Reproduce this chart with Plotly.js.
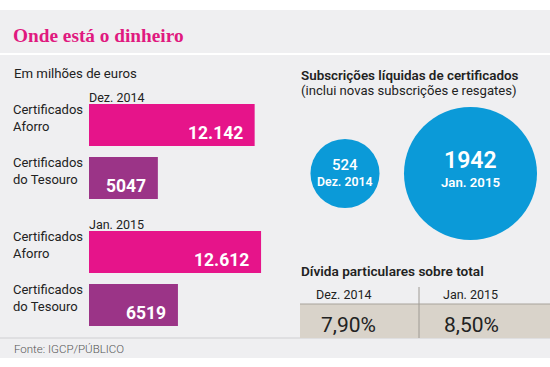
<!DOCTYPE html>
<html>
<head>
<meta charset="utf-8">
<script src="https://cdn.plot.ly/plotly-3.0.1.min.js"></script>
<style>
html,body{margin:0;padding:0;background:#fff;}
#chart{width:550px;height:367px;}
</style>
</head>
<body>
<div id="chart"></div>
<script>
// ---- data ----
const barCategories = ['Certificados Aforro', 'Certificados do Tesouro'];
const barLabels = ['Certificados<br>Aforro', 'Certificados<br>do Tesouro'];
const periods = ['Dez. 2014', 'Jan. 2015'];
const valuesDec2014 = [12142, 5047];
const valuesJan2015 = [12612, 6519];
const subsDates = ['Dez. 2014', 'Jan. 2015'];
const subsValues = [524, 1942];
const debtDates = ['Dez. 2014', 'Jan. 2015'];
const debtValues = [7.90, 8.50];

// ---- helpers ----
const W = 550, H = 367;
const px = x => x / W;
const py = y => 1 - y / H;
function fmtPt(v) {
  if (v < 10000) return String(v);
  return String(v).replace(/\B(?=(\d{3})+(?!\d))/g, '.');
}
function fmtPct(v) { return v.toFixed(2).replace('.', ',') + '%'; }

const FONT = 'Roboto, "Open Sans", sans-serif';
const TXT = '#222222';
const barColors = ['#e6148a', '#9b3487'];
const BLUE = '#0b9ad8';

const groups = [valuesDec2014, valuesJan2015];
const yAxes = ['y', 'y3'];

const traces = [];
groups.forEach((vals, g) => {
  traces.push({
    type: 'bar', orientation: 'h',
    x: vals, y: barCategories,
    xaxis: 'x', yaxis: yAxes[g],
    marker: { color: barColors, line: { width: 0 } },
    hoverinfo: 'x+y', showlegend: false
  });
});

// sizeref so that the 1942 bubble has radius ~66.5px (area-proportional)
const maxR = 66.5;
const sizeref = Math.max(...subsValues) / (2 * maxR * maxR);
traces.push({
  type: 'scatter', mode: 'markers',
  x: subsDates, y: subsDates.map(() => 0),
  xaxis: 'x2', yaxis: 'y2',
  marker: { size: subsValues, sizemode: 'area', sizeref: sizeref, color: BLUE, line: { width: 0 }, opacity: 1 },
  cliponaxis: false, hoverinfo: 'x+text', text: subsValues.map(String), showlegend: false
});

const annotations = [];
const shapes = [];

// background panel
shapes.push({ type: 'rect', xref: 'paper', yref: 'paper', x0: px(0), x1: px(550), y0: py(358), y1: py(10), fillcolor: '#efeff1', line: { width: 0 }, layer: 'below' });
// white separator under title
shapes.push({ type: 'line', xref: 'paper', yref: 'paper', x0: px(0), x1: px(550), y0: py(54), y1: py(54), line: { color: '#ffffff', width: 2 }, layer: 'below' });
// footer line
shapes.push({ type: 'line', xref: 'paper', yref: 'paper', x0: px(0), x1: px(550), y0: py(338), y1: py(338), line: { color: '#cfcfd2', width: 1 }, layer: 'below' });
// table beige row
shapes.push({ type: 'rect', xref: 'paper', yref: 'paper', x0: px(300), x1: px(550), y0: py(338), y1: py(304), fillcolor: '#d9d3ca', line: { width: 0 }, layer: 'below' });
shapes.push({ type: 'line', xref: 'paper', yref: 'paper', x0: px(300), x1: px(550), y0: py(304), y1: py(304), line: { color: '#a8a39b', width: 1 }, layer: 'below' });
shapes.push({ type: 'line', xref: 'paper', yref: 'paper', x0: px(419), x1: px(419), y0: py(338), y1: py(287), line: { color: '#9e9a94', width: 1 }, layer: 'below' });

function txt(x, y, text, size, opts) {
  return Object.assign({
    xref: 'paper', yref: 'paper', x: px(x), y: py(y), text: text,
    showarrow: false, xanchor: 'left', yanchor: 'middle',
    font: { family: FONT, size: size, color: TXT }
  }, opts || {});
}

// title
annotations.push(txt(11, 35.5, 'Onde está o dinheiro', 19.3, { font: { family: '"Liberation Serif", "DejaVu Serif", serif', size: 19.3, color: '#e0197f', weight: 700 } }));
annotations.push(txt(12, 74, 'Em milhões de euros', 13.2));
// right headings
annotations.push(txt(299, 75.5, 'Subscrições líquidas de certificados', 13.4, { font: { family: FONT, size: 13.4, color: TXT, weight: 600 } }));
annotations.push(txt(299, 90.5, '(inclui novas subscrições e resgates)', 13.1));
annotations.push(txt(299, 271, 'Dívida particulares sobre total', 13.6, { font: { family: FONT, size: 13.6, color: TXT, weight: 600 } }));
// footer
annotations.push(txt(12, 348.5, 'Fonte: IGCP/PÚBLICO', 11.5, { font: { family: FONT, size: 11.5, color: '#555555', weight: 300 } }));

// bar group annotations
groups.forEach((vals, g) => {
  const ya = yAxes[g];
  annotations.push({
    xref: 'paper', yref: ya, x: px(87), y: barCategories[0], yshift: 28,
    text: periods[g], showarrow: false, xanchor: 'left', yanchor: 'middle',
    font: { family: FONT, size: 12.5, color: TXT }
  });
  barCategories.forEach((c, i) => {
    annotations.push({
      xref: 'paper', yref: ya, x: px(11), y: c, yshift: 7,
      text: barLabels[i], showarrow: false, xanchor: 'left', yanchor: 'middle', align: 'left',
      font: { family: FONT, size: 13, color: TXT }
    });
    annotations.push({
      xref: 'x', yref: ya, x: vals[i], y: c, xshift: -10, yshift: -8,
      text: fmtPt(vals[i]), showarrow: false, xanchor: 'right', yanchor: 'middle',
      font: { family: FONT, size: 17.5, color: '#ffffff', weight: 700 }
    });
  });
});

// bubble texts
const numSizes = [15, 23];
const numShift = [8.5, 13.5];
const dateSizes = [12.3, 13.2];
subsDates.forEach((d, i) => {
  annotations.push({
    xref: 'x2', yref: 'y2', x: d, y: 0, yshift: numShift[i],
    text: String(subsValues[i]), showarrow: false, xanchor: 'center', yanchor: 'middle',
    font: { family: FONT, size: numSizes[i], color: '#ffffff', weight: i === 1 ? 600 : 500 }
  });
  annotations.push({
    xref: 'x2', yref: 'y2', x: d, y: 0, yshift: -8.5,
    text: d, showarrow: false, xanchor: 'center', yanchor: 'middle',
    font: { family: FONT, size: dateSizes[i], color: '#ffffff', weight: 600 }
  });
});

// table texts
const colCenters = [344, 470];
const valCenters = [348, 471.5];
debtDates.forEach((d, i) => {
  annotations.push(txt(colCenters[i], 294, d, 12.5, { xanchor: 'center' }));
  annotations.push(txt(valCenters[i], 324.5, fmtPct(debtValues[i]), 21, { xanchor: 'center', font: { family: FONT, size: 21, color: TXT, weight: 400 } }));
});

const hiddenAxis = { visible: false, showgrid: false, zeroline: false, fixedrange: true };

const layout = {
  width: W, height: H,
  margin: { l: 0, r: 0, t: 0, b: 0, pad: 0 },
  paper_bgcolor: '#ffffff', plot_bgcolor: 'rgba(0,0,0,0)',
  showlegend: false, bargap: 0.21,
  xaxis: Object.assign({}, hiddenAxis, { domain: [px(89), px(280)], range: [0, 14000], anchor: 'y' }),
  yaxis: Object.assign({}, hiddenAxis, { domain: [py(204.5), py(98.5)], type: 'category', categoryarray: barCategories, range: [1.5, -0.5], anchor: 'x' }),
  yaxis3: Object.assign({}, hiddenAxis, { domain: [py(331.5), py(225.5)], type: 'category', categoryarray: barCategories, range: [1.5, -0.5], anchor: 'x' }),
  xaxis2: Object.assign({}, hiddenAxis, { domain: [px(282.25), px(533.25)], type: 'category', categoryarray: subsDates, range: [-0.5, 1.5], anchor: 'y2' }),
  yaxis2: Object.assign({}, hiddenAxis, { domain: [py(243.5), py(103.5)], range: [-1, 1], anchor: 'x2' }),
  shapes: shapes,
  annotations: annotations
};

Plotly.newPlot('chart', traces, layout, { displayModeBar: false, staticPlot: true });
</script>
</body>
</html>
